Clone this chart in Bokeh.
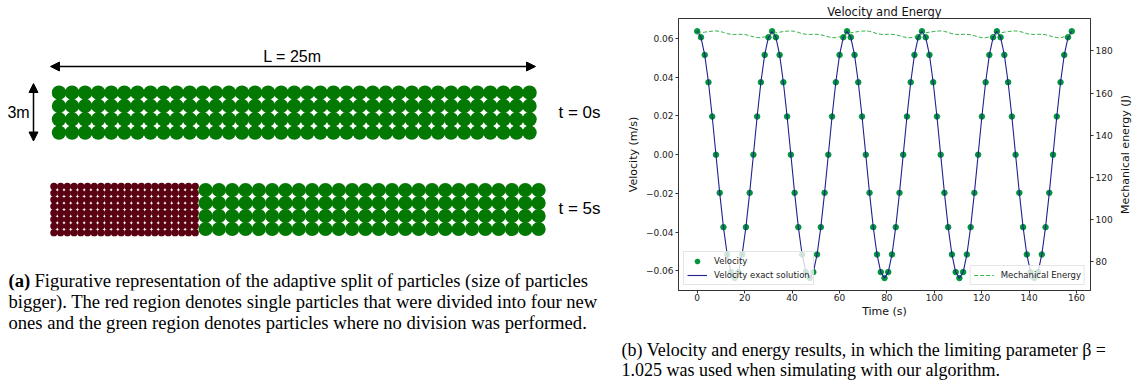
import numpy as np
from bokeh.plotting import figure
from bokeh.models import (Range1d, LinearAxis, FixedTicker, CustomJSTickFormatter,
                          Legend, LegendItem, Title, Arrow, NormalHead)
from bokeh.layouts import row
from bokeh.embed import file_html
from bokeh.resources import INLINE
from bokeh.core.properties import value

# ---------------- data ----------------
time_s = [0.00, 1.58, 3.16, 4.74, 6.32, 7.90, 9.48, 11.06, 12.64, 14.22,
          15.80, 17.38, 18.96, 20.54, 22.12, 23.70, 25.28, 26.86, 28.44, 30.02,
          31.60, 33.18, 34.76, 36.34, 37.92, 39.50, 41.08, 42.66, 44.24, 45.82,
          47.40, 48.98, 50.56, 52.14, 53.72, 55.30, 56.88, 58.46, 60.04, 61.62,
          63.20, 64.78, 66.36, 67.94, 69.52, 71.10, 72.68, 74.26, 75.84, 77.42,
          79.00, 80.58, 82.16, 83.74, 85.32, 86.90, 88.48, 90.06, 91.64, 93.22,
          94.80, 96.38, 97.96, 99.54, 101.12, 102.70, 104.28, 105.86, 107.44, 109.02,
          110.60, 112.18, 113.76, 115.34, 116.92, 118.50, 120.08, 121.66, 123.24, 124.82,
          126.40, 127.98, 129.56, 131.14, 132.72, 134.30, 135.88, 137.46, 139.04, 140.62,
          142.20, 143.78, 145.36, 146.94, 148.52, 150.10, 151.68, 153.26, 154.84, 156.42,
          158.00]

velocity = [0.0637, 0.0606, 0.0515, 0.0374, 0.0197, 0.0000, -0.0197, -0.0374, -0.0515, -0.0606,
            -0.0637, -0.0606, -0.0515, -0.0374, -0.0197, 0.0000, 0.0197, 0.0374, 0.0515, 0.0606,
            0.0637, 0.0606, 0.0515, 0.0374, 0.0197, 0.0000, -0.0197, -0.0374, -0.0515, -0.0606,
            -0.0637, -0.0606, -0.0515, -0.0374, -0.0197, 0.0000, 0.0197, 0.0374, 0.0515, 0.0606,
            0.0637, 0.0606, 0.0515, 0.0374, 0.0197, 0.0000, -0.0197, -0.0374, -0.0515, -0.0606,
            -0.0637, -0.0606, -0.0515, -0.0374, -0.0197, 0.0000, 0.0197, 0.0374, 0.0515, 0.0606,
            0.0637, 0.0606, 0.0515, 0.0374, 0.0197, 0.0000, -0.0197, -0.0374, -0.0515, -0.0606,
            -0.0637, -0.0606, -0.0515, -0.0374, -0.0197, 0.0000, 0.0197, 0.0374, 0.0515, 0.0606,
            0.0637, 0.0606, 0.0515, 0.0374, 0.0197, 0.0000, -0.0197, -0.0374, -0.0515, -0.0606,
            -0.0637, -0.0606, -0.0515, -0.0374, -0.0197, 0.0000, 0.0197, 0.0374, 0.0515, 0.0606,
            0.0637]

velocity_exact = list(velocity)

energy = [188.3, 188.6, 188.9, 189.2, 189.4, 189.5, 189.3, 188.8, 188.2, 187.9,
          187.8, 187.9, 187.9, 187.7, 187.2, 186.7, 186.3, 186.3, 186.7, 187.4,
          188.3, 188.6, 188.9, 189.2, 189.4, 189.5, 189.3, 188.8, 188.2, 187.9,
          187.8, 187.9, 187.9, 187.7, 187.2, 186.7, 186.3, 186.3, 186.7, 187.4,
          188.3, 188.6, 188.9, 189.2, 189.4, 189.5, 189.3, 188.8, 188.2, 187.9,
          187.8, 187.9, 187.9, 187.7, 187.2, 186.7, 186.3, 186.3, 186.7, 187.4,
          188.3, 188.6, 188.9, 189.2, 189.4, 189.5, 189.3, 188.8, 188.2, 187.9,
          187.8, 187.9, 187.9, 187.7, 187.2, 186.7, 186.3, 186.3, 186.7, 187.4,
          188.3, 188.6, 188.9, 189.2, 189.4, 189.5, 189.3, 188.8, 188.2, 187.9,
          187.8, 187.9, 187.9, 187.7, 187.2, 186.7, 186.3, 186.3, 186.7, 187.4,
          188.3]

time_ticks = [0, 20, 40, 60, 80, 100, 120, 140, 160]
velocity_ticks = [-0.06, -0.04, -0.02, 0.0, 0.02, 0.04, 0.06]
energy_ticks = [80, 100, 120, 140, 160, 180]

# particle diagram (counts)
n_cols = 37          # particle columns along L
n_rows = 4           # particle rows along the height
n_split_cols = 11    # columns that were split at t = 5s
split = 2            # each split particle -> 2 x 2

caption_a = ["Figurative representation of the adaptive split of particles (size of particles",
             "bigger). The red region denotes single particles that were divided into four new",
             "ones and the green region denotes particles where no division was performed."]
caption_b = ["(b) Velocity and energy results, in which the limiting parameter \u03b2 =",
             "1.025 was used when simulating with our algorithm."]

GREEN = "#037803"
RED = "#5a0012"
CAP_SIZE = "18.6px"
CAP_B_SIZE = "18px"

# ---------------- left: particle diagram ----------------
left = figure(width=620, height=383, x_range=Range1d(0, 620), y_range=Range1d(290, 18),
              x_axis_location=None, y_axis_location=None,
              min_border_left=0, min_border_right=0, min_border_top=18, min_border_bottom=93,
              toolbar_location=None, output_backend="svg", outline_line_color=None)
left.grid.grid_line_color = None

def grid(nx, ny, x0, dx, y0, dy):
    gx, gy = np.meshgrid(np.arange(nx), np.arange(ny))
    return (x0 + gx.ravel() * dx), (y0 + gy.ravel() * dy)

tx, ty = grid(n_cols, n_rows, 58.5, 13.07, 92.2, 13.3)
left.scatter(tx, ty, size=14.4, marker="circle", fill_color=GREEN, line_color=None)
rx, ry = grid(n_split_cols * split, n_rows * split, 53.4, 6.73, 186.0, 6.6)
left.scatter(rx, ry, size=7.3, marker="circle", fill_color=RED, line_color=None)
gx, gy = grid(n_cols - n_split_cols, n_rows, 205.1, 13.32, 189.5, 13.0)
left.scatter(gx, gy, size=14.2, marker="circle", fill_color=GREEN, line_color=None)

head = dict(size=9, fill_color="black", line_color="black")
left.add_layout(Arrow(start=NormalHead(**head), end=NormalHead(**head),
                      x_start=50, y_start=66, x_end=535, y_end=66,
                      line_width=1.5, line_color="black"))
left.add_layout(Arrow(start=NormalHead(**head), end=NormalHead(**head),
                      x_start=33, y_start=83, x_end=33, y_end=140.5,
                      line_width=1.5, line_color="black"))

sans = value("Liberation Sans")
left.text(x=[292], y=[56], text=["L = 25m"], text_font=sans, text_font_size="16px",
          text_align="center", text_baseline="middle", text_color="black")
left.text(x=[18], y=[112], text=["3m"], text_font=sans, text_font_size="16px",
          text_align="center", text_baseline="middle", text_color="black")
left.text(x=[558, 558], y=[112, 208], text=["t = 0s", "t = 5s"], text_font=sans,
          text_font_size="17px", text_align="left", text_baseline="middle", text_color="black")

serif = value("Liberation Serif")
left.text(x=[8], y=[280], text=["(a)"], text_font=serif, text_font_style="bold",
          text_font_size=CAP_SIZE, text_align="left", text_baseline="middle", text_color="black")
left.text(x=[34], y=[280], text=[caption_a[0]], text_font=serif,
          text_font_size=CAP_SIZE, text_align="left", text_baseline="middle", text_color="black")
left.add_layout(Title(text=caption_a[1] + "\n" + caption_a[2], align="left", offset=8,
                      standoff=0, text_font="Liberation Serif", text_font_size=CAP_SIZE,
                      text_font_style="normal", text_color="black", vertical_align="top"),
                "below")

# ---------------- right: chart ----------------
p = figure(width=495, height=383, x_range=Range1d(-7.9, 165.9), y_range=Range1d(-0.0701, 0.0703),
           toolbar_location=None, output_backend="svg",
           min_border_left=58, min_border_right=23, min_border_top=18, min_border_bottom=93)
p.extra_y_ranges = {"energy": Range1d(66.2, 195.4)}
p.grid.grid_line_color = None
p.outline_line_color = "#333333"
p.outline_line_alpha = 1.0

p.title.text = "Velocity and Energy"
p.title.align = "center"
p.title.standoff = 0
p.title.text_font = "DejaVu Sans"
p.title.text_font_size = "11.5px"
p.title.text_font_style = "normal"
p.title.text_color = "#111111"

r_sc = p.scatter(time_s, velocity, size=5.5, marker="circle", fill_color="#00963a",
                 line_color="#00963a")
r_ln = p.line(time_s, velocity_exact, line_color="#20208f", line_width=1.1)
r_en = p.line(time_s, energy, y_range_name="energy", line_color="#35b04a",
              line_width=1.0, line_dash="4 2")

rax = LinearAxis(y_range_name="energy")
p.add_layout(rax, "right")

p.xaxis[0].ticker = FixedTicker(ticks=time_ticks)
p.xaxis[0].axis_label = "Time (s)"
p.yaxis[0].ticker = FixedTicker(ticks=velocity_ticks)
p.yaxis[0].axis_label = "Velocity (m/s)"
p.yaxis[0].formatter = CustomJSTickFormatter(
    code="return (tick < -1e-9 ? '\u2212' : '') + Math.abs(tick).toFixed(2);")
rax.ticker = FixedTicker(ticks=energy_ticks)

AX_STYLE = dict(major_tick_out=3, major_tick_in=0, minor_tick_out=0, minor_tick_in=0,
                axis_line_color="#333333", major_tick_line_color="#333333",
                major_label_text_font="DejaVu Sans", major_label_text_font_size="9px",
                major_label_text_color="#222222", major_label_standoff=2,
                axis_label_text_font="DejaVu Sans", axis_label_text_font_size="11px",
                axis_label_text_font_style="normal", axis_label_text_color="#111111",
                axis_label_standoff=3)
for ax in (p.xaxis[0], p.yaxis[0], rax):
    for k, v in AX_STYLE.items():
        setattr(ax, k, v)
p.xaxis[0].major_label_standoff = 0
p.xaxis[0].axis_label_standoff = 1

leg1 = Legend(items=[LegendItem(label="Velocity", renderers=[r_sc]),
                     LegendItem(label="Velocity exact solution", renderers=[r_ln])],
              location="bottom_left")
leg2 = Legend(items=[LegendItem(label="Mechanical Energy", renderers=[r_en])],
              location="bottom_right")
for lg in (leg1, leg2):
    lg.label_text_font = "DejaVu Sans"
    lg.label_text_font_size = "8.5px"
    lg.label_text_color = "#222222"
    lg.glyph_width = 20
    lg.glyph_height = 12
    lg.label_height = 12
    lg.padding = 3
    lg.spacing = 2
    lg.margin = 5
    lg.label_standoff = 7
    lg.border_line_color = "#cccccc"
    lg.background_fill_color = "white"
    lg.background_fill_alpha = 0.8
p.add_layout(leg1)
p.add_layout(leg2)

# blank spacer between the x axis and the caption (one white tick, no label)
spacer = LinearAxis(ticker=FixedTicker(ticks=[-7.0]), major_tick_out=19, major_tick_in=0,
                    minor_tick_out=0, minor_tick_in=0, axis_line_color=None,
                    major_tick_line_color="white", major_tick_line_width=1,
                    formatter=CustomJSTickFormatter(code="return '';"),
                    major_label_text_font_size="0px",
                    major_label_standoff=0, axis_label_standoff=0)
p.add_layout(spacer, "below")

p.add_layout(Title(text=caption_b[0] + "\n" + caption_b[1], align="left", offset=-57,
                   standoff=0, text_font="Liberation Serif", text_font_size=CAP_B_SIZE,
                   text_font_style="normal", text_color="black", vertical_align="top"),
             "below")

# ---------------- energy axis label (reads bottom-to-top, like the reference) ----------------
lab = figure(width=17, height=383, x_range=Range1d(0, 1), y_range=Range1d(66.2, 195.4),
             x_axis_location=None, toolbar_location=None, output_backend="svg",
             min_border_left=0, min_border_right=0, min_border_top=18, min_border_bottom=93,
             outline_line_color=None)
lab.grid.grid_line_color = None
lab.yaxis[0].ticker = FixedTicker(ticks=[])
lab.yaxis[0].axis_label = "Mechanical energy (J)"
lab.yaxis[0].axis_line_color = None
lab.yaxis[0].major_tick_out = 0
lab.yaxis[0].major_tick_in = 0
lab.yaxis[0].minor_tick_out = 0
lab.yaxis[0].minor_tick_in = 0
lab.yaxis[0].major_label_text_font_size = "0px"
lab.yaxis[0].major_label_standoff = 0
lab.yaxis[0].axis_label_standoff = 0
lab.yaxis[0].axis_label_text_font = "DejaVu Sans"
lab.yaxis[0].axis_label_text_font_size = "11px"
lab.yaxis[0].axis_label_text_font_style = "normal"
lab.yaxis[0].axis_label_text_color = "#111111"

layout = row(left, p, lab)
open("out.html", "w").write(file_html(layout, INLINE))
